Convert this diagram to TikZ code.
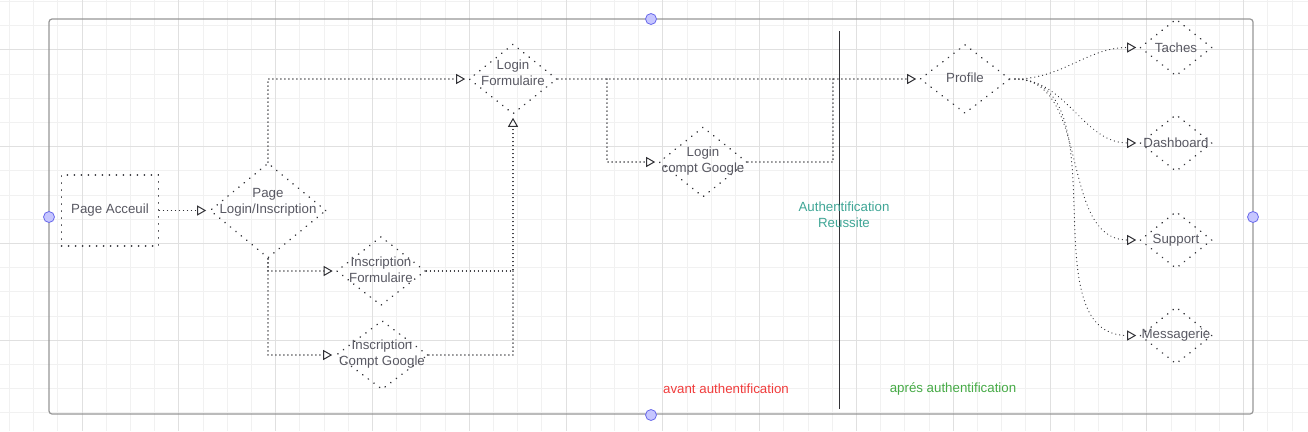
\documentclass[tikz,border=0pt]{standalone}
\usepackage{fontspec}
\setmainfont{Liberation Sans}
\usetikzlibrary{arrows.meta, shapes.geometric, positioning}

\definecolor{txtgrey}{RGB}{88,88,98}
\definecolor{linegrey}{RGB}{50,50,55}
\definecolor{gridfine}{RGB}{241,241,241}
\definecolor{gridmajor}{RGB}{224,224,224}
\definecolor{framegrey}{RGB}{150,150,150}
\definecolor{handlefill}{RGB}{198,198,255}
\definecolor{handleedge}{RGB}{105,105,235}
\definecolor{authteal}{RGB}{64,166,150}
\definecolor{avantred}{RGB}{240,60,60}
\definecolor{apresgreen}{RGB}{70,170,70}

\tikzset{
	nodetext/.style={text=txtgrey, font=\fontsize{13.3}{16}\selectfont, align=center},
	pagebox/.style={draw=linegrey, line width=1.6, line cap=round, dash pattern=on 0.2 off 6.8, inner sep=0},
	screen/.style={pagebox, diamond, minimum width=88, minimum height=70},
	menu/.style={pagebox, diamond, minimum width=72, minimum height=57},
	flow/.style={draw=linegrey, line width=1.1, line cap=round, dash pattern=on 0.2 off 3.8,
		-{Triangle[open, length=9, width=10, line width=1]}, shorten >=3},
	link/.style={draw=linegrey, line width=1.1, line cap=round, dash pattern=on 0.2 off 3.8},
	gridline/.style={draw=gridfine, line width=1},
	gridbold/.style={draw=gridmajor, line width=1},
	handle/.style={circle, draw=handleedge, fill=handlefill, line width=0.8, minimum size=11, inner sep=0}
}

\begin{document}
\begin{tikzpicture}[x=1pt, y=-1pt]
	\useasboundingbox (0,0) rectangle (1308,431);

	% canvas grid
	\foreach \gx in {0,...,53} \draw[gridline] ({9.4+\gx*24.2},0) -- ++(0,431);
	\foreach \gy in {0,...,17} \draw[gridline] (0,{1.5+\gy*24.2}) -- ++(1308,0);
	\foreach \gx in {0,...,12} \draw[gridbold] ({82+\gx*96.8},0) -- ++(0,431);
	\foreach \gy in {0,...,3} \draw[gridbold] (0,{49.9+\gy*96.8}) -- ++(1308,0);

	% frame
	\draw[framegrey, line width=1.2, rounded corners=3] (49,19) rectangle (1253,414);

	% pages
	\node [pagebox, rectangle, minimum width=97, minimum height=71, nodetext]	(accueil)	at (110,210.5)	{Page Acceuil};
	\node [screen, minimum width=116, minimum height=95, label={[nodetext, yshift=8]center:Page\\Login/Inscription}]	(loginpage)	at (268,210.5)	{};
	\node [screen, label={[nodetext, yshift=6]center:Login\\Formulaire}]	(loginform)	at (513,79)	{};
	\node [screen, minimum width=89, minimum height=69, label={[nodetext, yshift=1]center:Inscription\\Formulaire}]	(inscform)	at (381,271)	{};
	\node [screen, minimum width=92, minimum height=69, label={[nodetext, yshift=1]center:Inscription\\Compt Google}]	(inscgoogle)	at (382,355)	{};
	\node [screen, label={[nodetext, yshift=1]center:Login\\compt Google}]	(logingoogle)	at (703,162)	{};
	\node [screen, minimum width=90, minimum height=69, label={[nodetext, yshift=1]center:Profile}]	(profile)	at (965,79)	{};

	\node [menu, label={[nodetext]center:Taches}]		(taches)	at (1176,47.5)	{};
	\node [menu, label={[nodetext]center:Dashboard}]	(dashboard)	at (1176,143)	{};
	\node [menu, label={[nodetext]center:Support}]		(support)	at (1176,240)	{};
	\node [menu, label={[nodetext]center:Messagerie}]	(messagerie)	at (1176,335.5)	{};

	% separation
	\coordinate (divtop) at (839,31);
	\coordinate (divbot) at (839,409);
	\draw[linegrey, line width=1] (divtop) -- (divbot);

	\node [nodetext, text=authteal]		(reussite)	at (844,215)	{Authentification\\Reussite};
	\node [nodetext, text=avantred]		(avant)		at (726,389)	{avant authentification};
	\node [nodetext, text=apresgreen]	(apres)		at (953,389)	{aprés authentification};

	% connectors
	\coordinate (split) at (607,79);
	\coordinate (merge) at (833,79);
	\coordinate (rise) at (513,271);

	\draw[flow] (accueil.east) -- (loginpage.west);
	\draw[flow] (loginpage.north) |- (loginform.west);
	\draw[flow] (loginpage.south) |- (inscform.west);
	\draw[flow] (loginpage.south) |- (inscgoogle.west);
	\draw[flow] (inscform.east) -| (loginform.south);
	\draw[link] (inscgoogle.east) -| (rise);
	\draw[flow] (loginform.east) -- (profile.west);
	\draw[flow] (split) |- (logingoogle.west);
	\draw[link] (logingoogle.east) -| (merge);

	\foreach \target in {taches, dashboard, support, messagerie}
		\draw[flow, shorten <=4] (profile.east) to[out=0, in=180] (\target.west);

	% handles
	\node [handle] (htop) at (651,19) {};
	\node [handle] (hleft) at (49,217) {};
	\node [handle] (hright) at (1253,217) {};
	\node [handle] (hbottom) at (651,415) {};
\end{tikzpicture}
\end{document}
